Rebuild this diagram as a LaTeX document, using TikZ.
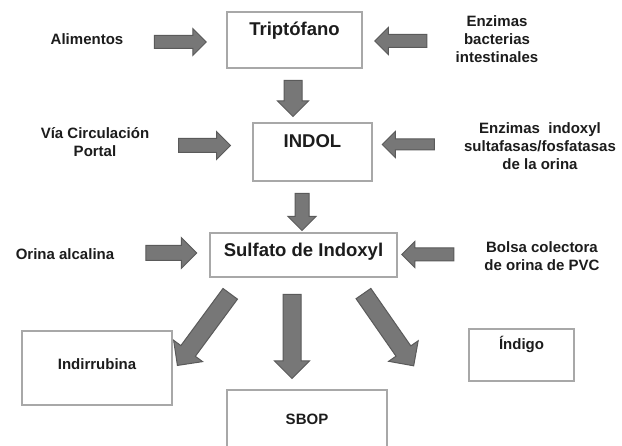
\documentclass[tikz,border=0pt]{standalone}
\usepackage{fontspec}
\setmainfont{Liberation Sans}
\usetikzlibrary{shapes.arrows}
\definecolor{ink}{HTML}{1C1C1C}
\definecolor{frame}{HTML}{A8A8A8}
\definecolor{flowfill}{HTML}{777777}
\definecolor{flowedge}{HTML}{5A5A5A}
\tikzset{
  box/.style    = {draw=frame, fill=white, line width=1.8pt, inner xsep=0pt, inner ysep=0pt,
                   font=\fontsize{18.5}{22}\selectfont\bfseries\color{ink}},
  boxsm/.style  = {box, font=\fontsize{15}{18}\selectfont\bfseries\color{ink}},
  lab/.style    = {font=\fontsize{15}{18}\selectfont\bfseries\color{ink}, align=center, inner sep=0pt},
  flow/.style   = {single arrow, single arrow tip angle=90, fill=flowfill, draw=flowedge,
                   line width=1pt, inner xsep=0pt},
}

\begin{document}
\begin{tikzpicture}[x=1pt,y=-1pt]
\path[use as bounding box] (0,0) rectangle (622,446);
\fill[white] (0,0) rectangle (622,446);
\clip (0,0) rectangle (622,446);

% ---- main chain ---------------------------------------------------------
\node[box, minimum width=135pt, text height=23.6pt, text depth=32.4pt] (trip)  at (294.5,40)  {Triptófano};
\node[box, minimum width=119pt, text height=24.6pt, text depth=33.4pt] (indol) at (312.5,152) {INDOL};
\node[box, minimum width=187pt, text height=23.6pt, text depth=20.4pt] (sulf)  at (303.5,255) {Sulfato de Indoxyl};

% ---- products -----------------------------------------------------------
\node[boxsm, minimum width=150pt, text height=38.4pt, text depth=35.6pt] (indi)   at (97,368)    {Indirrubina};
\node[boxsm, minimum width=105pt, text height=21pt,   text depth=31pt]   (indigo) at (521.5,355) {Índigo};
\node[boxsm, minimum width=160pt, text height=34.4pt, text depth=45.6pt] (sbop)   at (307,430)   {SBOP};

% ---- side factors -------------------------------------------------------
\node[lab] (alim)  at (87,39)    {Alimentos};
\node[lab] (via)   at (95,142)   {Vía Circulación\\Portal};
\node[lab] (orina) at (65,254)   {Orina alcalina};
\node[lab] (enzb)  at (497,39.5) {Enzimas\\bacterias\\intestinales};
\node[lab] (enzi)  at (540,146)  {Enzimas\ \ indoxyl\\sultafasas/fosfatasas\\de la orina};
\node[lab] (bolsa) at (542,256.5) {Bolsa colectora\\de orina de PVC};

% ---- block arrows: name/x/y/length/half shaft/head extend/angle ---------
\foreach \n/\cx/\cy/\len/\sh/\ext/\rot in {
    inAlim/177/42/52/6/7/0, inEnzb/404/41/52/6/7/180,
    inVia/201/145.5/52/6.5/7/0, inEnzi/411/144.5/52/5/7.5/180,
    inOrina/167.5/253/51/7/8/0, inBolsa/431/254.5/52/6/6.5/180,
    dnTrip/293/94/36/8.5/6.5/-90, dnIndol/302/208.5/37/6.5/7/-90,
    dnSbop/292/332/84/8.5/8.5/-90,
    dnIndi/206.5/326/89/8.5/9/-126.4, dnIndigo/386/326/88/8.5/9/-55.2} {
  \node[flow, minimum height=\len pt, inner ysep=\sh pt, single arrow head extend=\ext pt,
        rotate=\rot] (\n) at (\cx,\cy) {};
}

\end{tikzpicture}
\end{document}
